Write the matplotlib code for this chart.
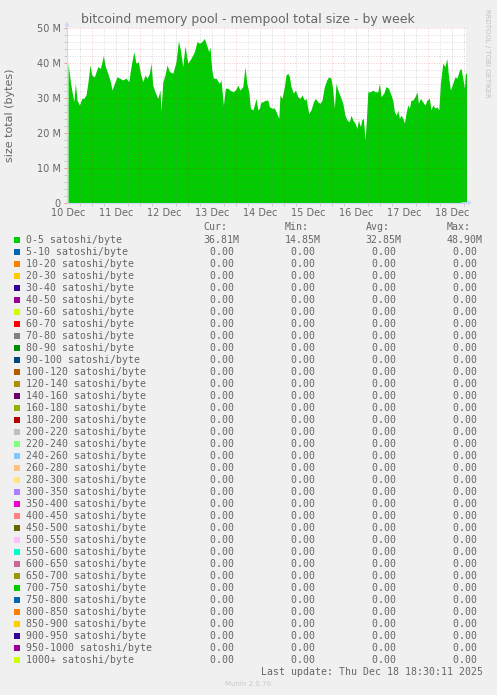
import numpy as np
import matplotlib.pyplot as plt
from matplotlib.patches import Rectangle

# mempool size of the 0-5 satoshi/byte band
# hours counted from 10 Dec 00:00, sizes in MB
hours = [12, 13.2, 14, 14.9, 15.7, 16.5, 17.7, 18.9, 19.9, 21, 21.9, 23, 23.9,
         25.2, 26.9, 28.2, 29.7, 30.7, 31.9, 33.2, 34, 35.2, 36.5, 37.7, 39.4,
         41, 42.4, 43.5, 44.9, 46, 47.2, 48.2, 49.4, 50.5, 51.5, 52.7, 53.5,
         54.4, 55.5, 56.9, 58, 58.5, 59.4, 60.5, 61.5, 62.7, 64.4, 66, 67.2,
         68.2, 69.4, 70.5, 71.9, 73.5, 75.2, 76.5, 77.7, 79, 80.2, 81.4, 82.4,
         83, 83.9, 84.7, 86, 87.7, 88.5, 89.7, 90.7, 91.9, 93, 94.4, 95.7, 96.9,
         98, 99.4, 100.5, 101.4, 102.4, 103.2, 104.4, 105.2, 106, 106.9, 107.7,
         108.5, 109.4, 110.7, 111.9, 112.7, 114, 115.2, 116.4, 117.4, 118, 119,
         120.2, 121, 121.9, 122.7, 123.5, 124.7, 125.7, 126.9, 128, 129, 130.2,
         131, 132.4, 133.5, 134.7, 135.7, 136.9, 138, 139, 140.2, 141.4, 142.4,
         143.5, 144.4, 145.2, 146, 146.9, 148.2, 149.4, 150.5, 151.5, 152.7,
         153.5, 154.4, 155.5, 156.5, 157.2, 158.2, 158.9, 159.7, 160.5, 161.2,
         161.9, 163.2, 164.4, 165.5, 166.9, 167.7, 168.5, 169.9, 171, 172.2,
         173.2, 174.4, 175.2, 176.2, 176.9, 177.7, 178.5, 179.4, 180.2, 181,
         181.9, 182.7, 183.5, 184.4, 185.5, 186.5, 187.2, 188.2, 189.4, 190.5,
         191.5, 192.7, 193.5, 194.4, 195.5, 196.5, 197.4, 198.2, 199.4, 200.5,
         201.4, 202.2, 203.2, 204.4, 205.5, 206.5, 207.7, 208.5, 209.4, 210.2,
         210.7, 211.5]
size_mb = [40.1, 34.7, 31.8, 29, 34.2, 29.4, 28, 29.9, 29.9, 30.9, 34.2, 39.5, 36.6,
           36.1, 39, 38.5, 42.1, 39, 37.1, 34.7, 32.3, 34.2, 36.1, 35.7, 35.2,
           35.7, 34.7, 39, 43.3, 40, 40.4, 37.1, 34.7, 36.6, 35.7, 37.1, 40,
           33.7, 31.8, 29.9, 32.3, 26.1, 34.7, 36.6, 39.5, 37.6, 37.1, 40.4, 46.4,
           43.8, 39, 45, 40, 41.4, 43.3, 46.2, 45.7, 46.2, 47.1, 45, 43.3,
           44.7, 38, 35.7, 35.7, 34.2, 35.2, 28, 32.8, 32.8, 32.3, 31.8, 32.3, 33.7,
           32.3, 33.3, 39, 34.2, 31.8, 27.1, 26.6, 28, 29.9, 26.6, 27.1,
           28.9, 28.9, 29.4, 29.4, 27.5, 27.1, 27.1, 25.6, 24.2, 30.9, 29.9,
           33.3, 36.6, 37.1, 36.1, 33.3, 31.4, 32.3, 30.4, 29.9, 30.9, 29.4,
           29.9, 25.6, 26.6, 28.9, 29.9, 28.9, 28.5, 29.4, 33.3, 35.2, 36.1,
           35.7, 32.3, 27.1, 34.2, 32.3, 30.4, 28.5, 25.1, 23.7, 23.2,
           25.1, 23.7, 22.8, 21.3, 23.7, 21.8, 23.7, 24.2, 18, 23.7,
           31.8, 31.8, 32.3, 31.8, 31.8, 34.2, 30.4, 31.4, 33.3, 32.8,
           31.4, 29.4, 26.1, 25.1, 26.6, 24.2, 25.1, 24.2, 22.8, 25.6,
           28, 27.1, 29.4, 29.4, 30.4, 31.8, 28.5, 29.9, 28.9, 28,
           29.4, 29.9, 26.6, 28, 27.1, 27.5, 26.6, 34.2, 40, 39,
           41.4, 36.6, 32.3, 34.2, 36.1, 35.7, 38, 38.5, 35.7, 32.8,
           37.1, 37.1]

day_labels = ['10 Dec', '11 Dec', '12 Dec', '13 Dec', '14 Dec', '15 Dec',
              '16 Dec', '17 Dec', '18 Dec']
y_labels = ['0', '10 M', '20 M', '30 M', '40 M', '50 M']

bands = ['0-5', '5-10', '10-20', '20-30', '30-40', '40-50', '50-60', '60-70',
         '70-80', '80-90', '90-100', '100-120', '120-140', '140-160', '160-180',
         '180-200', '200-220', '220-240', '240-260', '260-280', '280-300',
         '300-350', '350-400', '400-450', '450-500', '500-550', '550-600',
         '600-650', '650-700', '700-750', '750-800', '800-850', '850-900',
         '900-950', '950-1000', '1000+']
palette = ['#00CC00', '#0066B3', '#FF8000', '#FFCC00', '#330099', '#990099',
           '#CCFF00', '#FF0000', '#808080', '#008F00', '#00487D', '#B35A00',
           '#B38F00', '#6B006B', '#8FB300', '#B30000', '#BEBEBE', '#80FF80',
           '#80C9FF', '#FFC080', '#FFE680', '#AA80FF', '#EE00CC', '#FF8080',
           '#666600', '#FFBFFF', '#00FFCC', '#CC6699', '#999900']

# legend statistics (bytes); every band except the first is empty
cur_vals = [36.81e6] + [0.0] * 35
min_vals = [14.85e6] + [0.0] * 35
avg_vals = [32.85e6] + [0.0] * 35
max_vals = [48.90e6] + [0.0] * 35

W, H = 497, 695
FONT = '#666666'


def fx(px):
    return px / W


def fy(py):
    return 1 - py / H


def fmt(v):
    # rrdtool style "%5.2lf%s"
    if v >= 1e6:
        return '%5.2fM' % (v / 1e6)
    return '%5.2f ' % v


fig = plt.figure(figsize=(W / 100, H / 100), dpi=100, facecolor='#F0F0F0')
ax = fig.add_axes([fx(67), fy(202.7), (466 - 67) / W, (202.7 - 28.3) / H])
ax.set_facecolor('white')

ax.fill_between(hours, np.array(size_mb) * 1e6, color=palette[0], lw=0, zorder=1)
ax.set_xlim(11.5, 211)
ax.set_ylim(0, 50e6)

# grid (dotted, drawn over the area like rrdtool does)
dots = (0, (1, 1.6))
for v in range(2, 51, 2):
    if v % 10 == 0:
        ax.axhline(v * 1e6, color='#FF0000', alpha=0.22, lw=0.7, ls=dots, zorder=3)
    else:
        ax.axhline(v * 1e6, color='#808080', alpha=0.3, lw=0.7, ls=dots, zorder=2)
for h in range(18, 211, 6):
    if h % 24 == 0:
        ax.axvline(h, color='#FF0000', alpha=0.22, lw=0.7, ls=dots, zorder=3)
    else:
        ax.axvline(h, color='#808080', alpha=0.3, lw=0.7, ls=dots, zorder=2)

# ticks
ax.set_yticks(np.arange(0, 51e6, 10e6), labels=y_labels)
ax.set_yticks(np.arange(0, 51e6, 2e6), minor=True)
ax.set_xticks([24 * k + 12 for k in range(len(day_labels))], labels=day_labels)
ax.set_xticks(range(12, 211, 6), minor=True)
ax.tick_params(axis='x', which='major', length=0, pad=3.5, labelsize=7, labelcolor=FONT)
ax.tick_params(axis='y', which='major', length=2.2, width=0.7, color='#F09090',
               pad=2.2, labelsize=7, labelcolor=FONT)
ax.tick_params(which='minor', length=2.2, width=0.7, color='#C8C8C8')
for loc, tick in zip(ax.xaxis.get_minorticklocs(), ax.xaxis.get_minor_ticks()):
    if round(loc) % 24 == 0:
        tick.tick1line.set_color('#F09090')
for loc, tick in zip(ax.yaxis.get_minorticklocs(), ax.yaxis.get_minor_ticks()):
    if round(loc / 1e6) % 10 == 0:
        tick.tick1line.set_visible(False)

for side in ('top', 'right'):
    ax.spines[side].set_visible(False)
for side in ('left', 'bottom'):
    ax.spines[side].set_color('#CFD6F8')
    ax.spines[side].set_linewidth(0.8)
    ax.spines[side].set_zorder(4)

# axis arrows
ax.annotate('', xy=(0, 1.04), xytext=(0, 0.99), xycoords='axes fraction',
            arrowprops=dict(arrowstyle='-|>', color='#CFD6F8', lw=0.8,
                            mutation_scale=6, shrinkA=0, shrinkB=0))
ax.annotate('', xy=(1.016, 0), xytext=(0.99, 0), xycoords='axes fraction',
            arrowprops=dict(arrowstyle='-|>', color='#CFD6F8', lw=0.8,
                            mutation_scale=6, shrinkA=0, shrinkB=0))

# texts around the plot
fig.text(fx(248), fy(19), 'bitcoind memory pool - mempool total size - by week',
         ha='center', va='center', fontsize=9, color=FONT)
fig.text(fx(10), fy(115), 'size total (bytes)', rotation=90,
         ha='center', va='center', fontsize=8, color=FONT)
fig.text(fx(487), fy(53), 'RRDTOOL / TOBI OETIKER', rotation=270,
         ha='center', va='center', fontsize=5, color='#C0C0C0')

# legend block
mono = 'DejaVu Sans Mono'
cols_x = [203.7, 285, 365.7, 446.7]
for x, head in zip(cols_x, ['Cur:', 'Min:', 'Avg:', 'Max:']):
    fig.text(fx(x), fy(227.5), head, family=mono, fontsize=7.1, color=FONT,
             ha='left', va='center')

for i, band in enumerate(bands):
    yc = 239.8 + 12 * i
    fig.patches.append(Rectangle((fx(14), fy(yc + 3)), 6 / W, 6 / H,
                                 transform=fig.transFigure,
                                 color=palette[i % len(palette)], lw=0))
    fig.text(fx(26), fy(yc), band + ' satoshi/byte', family=mono,
             fontsize=7.1, color=FONT, ha='left', va='center')
    row = [cur_vals[i], min_vals[i], avg_vals[i], max_vals[i]]
    for x, v in zip(cols_x, row):
        fig.text(fx(x), fy(yc), fmt(v), family=mono, fontsize=7.1,
                 color=FONT, ha='left', va='center')

fig.text(fx(482.7), fy(671.7), 'Last update: Thu Dec 18 18:30:11 2025',
         family=mono, fontsize=7.1, color=FONT, ha='right', va='center')
fig.text(fx(247.7), fy(684), 'Munin 2.0.76', fontsize=5, color='#C8C8C8',
         ha='center', va='center')

fig.savefig('out.png', dpi=100, facecolor=fig.get_facecolor())
